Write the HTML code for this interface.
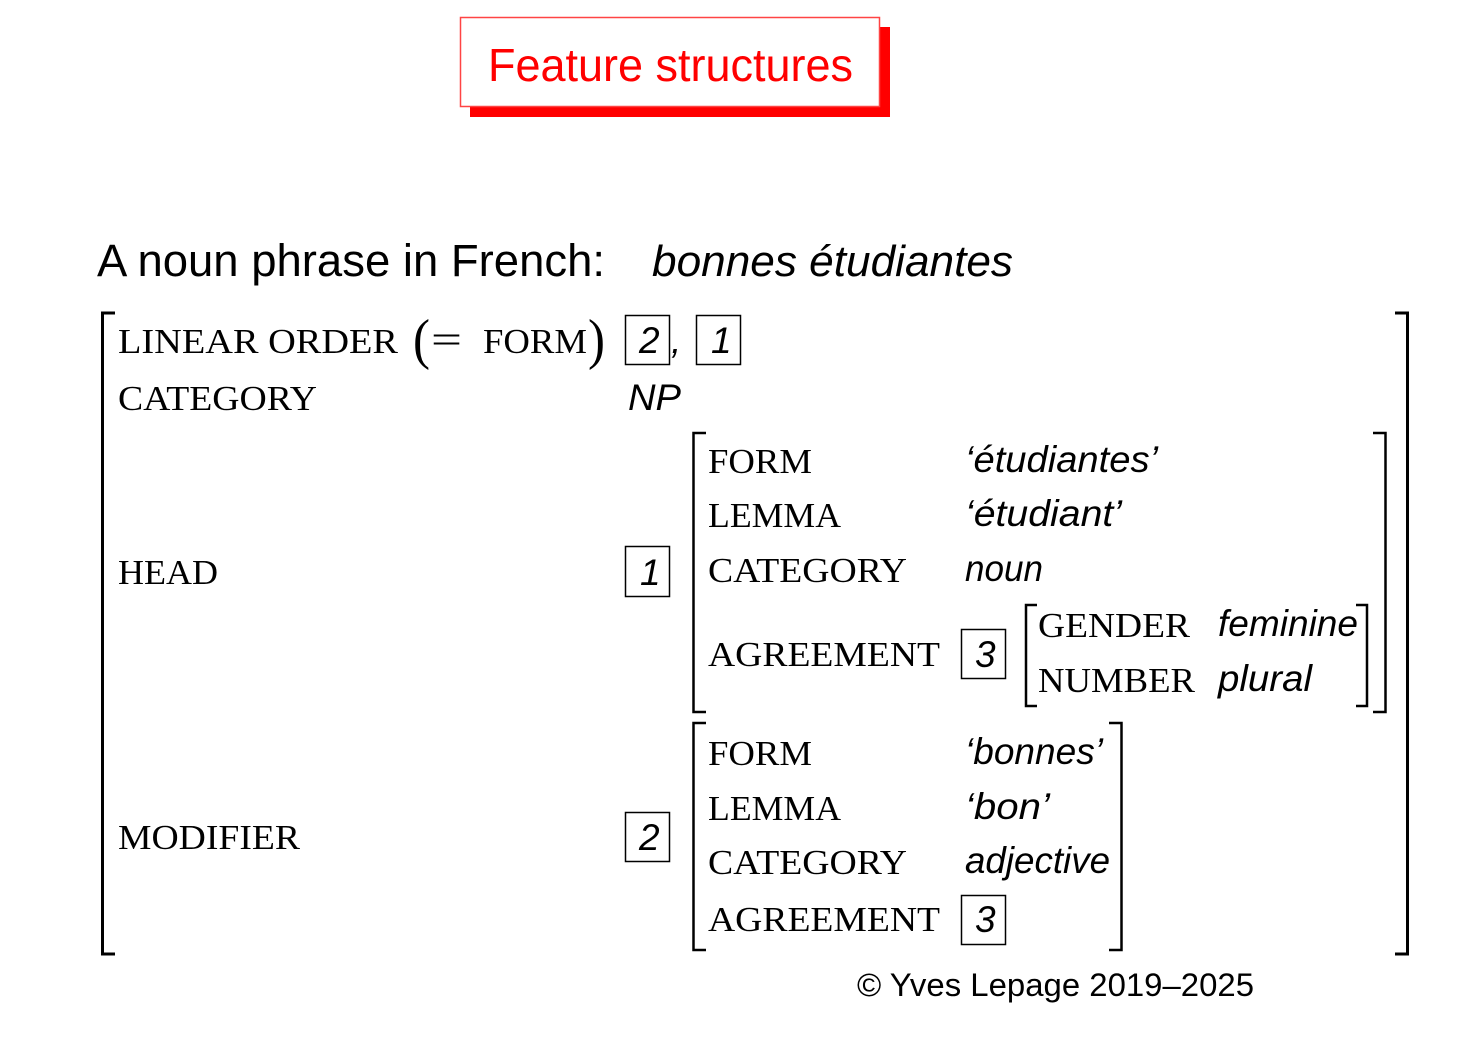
<!DOCTYPE html>
<html><head><meta charset="utf-8"><style>
html,body{margin:0;padding:0;background:#fff;width:1466px;height:1064px;overflow:hidden}
svg{display:block}
.sc{font-family:"Liberation Serif",serif;font-size:35px;fill:#000}
.it{font-family:"Liberation Sans",sans-serif;font-style:italic;font-size:37px;fill:#000}
.ss{font-family:"Liberation Sans",sans-serif;fill:#000}
</style></head><body>
<svg width="1466" height="1064" viewBox="0 0 1466 1064" xmlns="http://www.w3.org/2000/svg">
<rect x="470" y="27" width="420" height="90" fill="#ff0000"/>
<rect x="460.5" y="17.5" width="419" height="89" fill="#fff" stroke="#f44" stroke-width="1.5"/>
<text x="488" y="81" class="ss" style="fill:#f00;font-size:46px" textLength="365" lengthAdjust="spacingAndGlyphs">Feature structures</text>

<text x="97" y="276" class="ss" style="font-size:45px" textLength="508" lengthAdjust="spacingAndGlyphs">A noun phrase in French:</text>
<text x="652" y="276" class="it" style="font-size:44px" textLength="361" lengthAdjust="spacingAndGlyphs">bonnes étudiantes</text>

<g fill="none" stroke="#000" stroke-width="3">
<path d="M115,313 H102.5 V954 H115"/>
<path d="M1395,313 H1407.5 V954 H1395"/>
</g>
<g fill="none" stroke="#000" stroke-width="2.5">
<path d="M706,433 H693.5 V712 H706"/>
<path d="M1373,433 H1385.5 V712 H1373"/>
<path d="M706,723 H693.5 V950 H706"/>
<path d="M1109,723 H1121.5 V950 H1109"/>
<path d="M1037,605 H1026 V706 H1037"/>
<path d="M1356,605 H1367 V706 H1356"/>
</g>
<g fill="none" stroke="#000" stroke-width="1.5">
<rect x="625.5" y="315.5" width="44" height="49"/>
<rect x="696.5" y="315.5" width="44" height="49"/>
<rect x="625.5" y="546.5" width="44" height="50"/>
<rect x="625.5" y="812.5" width="44" height="49"/>
<rect x="961.5" y="629.5" width="44" height="49"/>
<rect x="961.5" y="895.5" width="44" height="49"/>
</g>

<text x="118" y="353" class="sc" textLength="280" lengthAdjust="spacingAndGlyphs">LINEAR ORDER</text>
<text x="413" y="358" class="sc" style="font-size:56px" textLength="17" lengthAdjust="spacingAndGlyphs">(</text>
<text x="431" y="353" class="sc" style="font-size:40px" textLength="31" lengthAdjust="spacingAndGlyphs">=</text>
<text x="483" y="353" class="sc" textLength="104" lengthAdjust="spacingAndGlyphs">FORM</text>
<text x="588" y="358" class="sc" style="font-size:56px" textLength="17" lengthAdjust="spacingAndGlyphs">)</text>
<text x="639" y="353" class="it">2</text>
<text x="671" y="353" class="it">,</text>
<text x="711" y="353" class="it">1</text>
<text x="118" y="410" class="sc" textLength="199" lengthAdjust="spacingAndGlyphs">CATEGORY</text>
<text x="628" y="410" class="it" textLength="53" lengthAdjust="spacingAndGlyphs">NP</text>
<text x="118" y="584" class="sc" textLength="100" lengthAdjust="spacingAndGlyphs">HEAD</text>
<text x="640" y="585" class="it">1</text>
<text x="118" y="849" class="sc" textLength="182" lengthAdjust="spacingAndGlyphs">MODIFIER</text>
<text x="639" y="850" class="it">2</text>

<text x="708" y="473" class="sc" textLength="104" lengthAdjust="spacingAndGlyphs">FORM</text>
<text x="965" y="472" class="it" textLength="193" lengthAdjust="spacingAndGlyphs">‘étudiantes’</text>
<text x="708" y="527" class="sc" textLength="133" lengthAdjust="spacingAndGlyphs">LEMMA</text>
<text x="965" y="526" class="it" textLength="157" lengthAdjust="spacingAndGlyphs">‘étudiant’</text>
<text x="708" y="582" class="sc" textLength="199" lengthAdjust="spacingAndGlyphs">CATEGORY</text>
<text x="965" y="581" class="it" textLength="78" lengthAdjust="spacingAndGlyphs">noun</text>
<text x="708" y="666" class="sc" textLength="232" lengthAdjust="spacingAndGlyphs">AGREEMENT</text>
<text x="975" y="667" class="it">3</text>
<text x="1038" y="637" class="sc" textLength="152" lengthAdjust="spacingAndGlyphs">GENDER</text>
<text x="1218" y="636" class="it" textLength="140" lengthAdjust="spacingAndGlyphs">feminine</text>
<text x="1038" y="692" class="sc" textLength="157" lengthAdjust="spacingAndGlyphs">NUMBER</text>
<text x="1218" y="691" class="it" textLength="94" lengthAdjust="spacingAndGlyphs">plural</text>

<text x="708" y="765" class="sc" textLength="104" lengthAdjust="spacingAndGlyphs">FORM</text>
<text x="965" y="764" class="it" textLength="138" lengthAdjust="spacingAndGlyphs">‘bonnes’</text>
<text x="708" y="820" class="sc" textLength="133" lengthAdjust="spacingAndGlyphs">LEMMA</text>
<text x="965" y="819" class="it" textLength="85" lengthAdjust="spacingAndGlyphs">‘bon’</text>
<text x="708" y="874" class="sc" textLength="199" lengthAdjust="spacingAndGlyphs">CATEGORY</text>
<text x="965" y="873" class="it" textLength="145" lengthAdjust="spacingAndGlyphs">adjective</text>
<text x="708" y="931" class="sc" textLength="232" lengthAdjust="spacingAndGlyphs">AGREEMENT</text>
<text x="975" y="932" class="it">3</text>

<text x="857" y="996" class="ss" style="font-size:32px" textLength="397" lengthAdjust="spacingAndGlyphs">© Yves Lepage  2019–2025</text>
</svg>
</body></html>
